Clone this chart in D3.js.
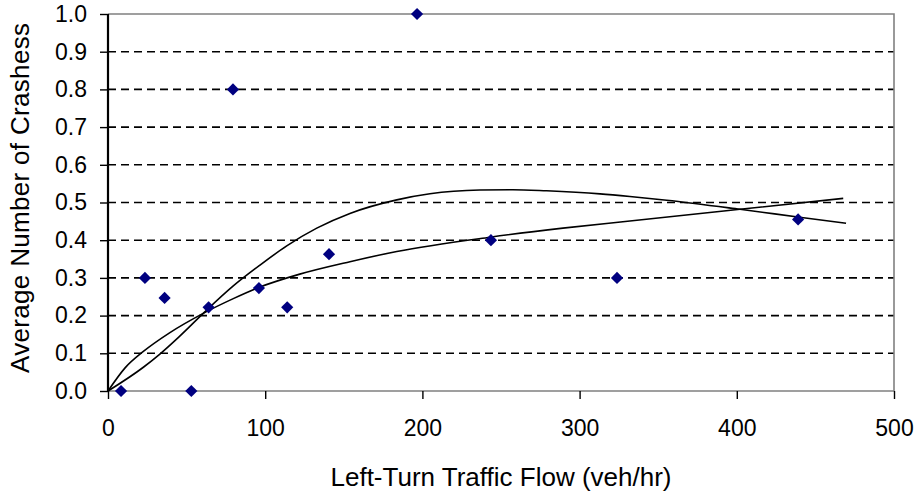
<!DOCTYPE html>
<html>
<head>
<meta charset="utf-8">
<script src="https://cdn.jsdelivr.net/npm/d3@7"></script>
<style>
  body { margin: 0; background: #fff; }
  text { font-family: "Liberation Sans", Arial, sans-serif; fill: #000; }
</style>
</head>
<body>
<script>
var width = 920
var height = 493

// observed points
var flow = [8.3, 23.5, 36, 53, 64, 79.5, 96, 114, 140.6, 196.6, 243.6, 323.8, 439]
var crashes = [0, 0.30, 0.247, 0, 0.222, 0.80, 0.273, 0.222, 0.363, 1.0, 0.40, 0.30, 0.455]

// trend lines
var powerX = [0, 11, 22.5, 39.4, 60.6, 79.7, 96.2, 122, 153.9, 183.7, 243, 289.4, 332, 402, 467.7]
var powerY = [0, 0.062, 0.105, 0.155, 0.206, 0.245, 0.275, 0.310, 0.343, 0.370, 0.408, 0.432, 0.451, 0.482, 0.511]
var polyX = [0, 22.5, 33, 45, 60.6, 79.5, 96.7, 113.7, 132.8, 153.9, 183.7, 204.8, 236.6, 257.6, 279, 313, 332, 355.4, 402, 440, 469.5]
var polyY = [0, 0.063, 0.098, 0.143, 0.206, 0.278, 0.334, 0.385, 0.432, 0.471, 0.507, 0.523, 0.533, 0.534, 0.531, 0.523, 0.516, 0.506, 0.482, 0.461, 0.445]

var xTicks = [0, 100, 200, 300, 400, 500]
var yTicks = [0, 0.1, 0.2, 0.3, 0.4, 0.5, 0.6, 0.7, 0.8, 0.9, 1.0]

var margin = { top: 14, right: 26, bottom: 102, left: 108 }

var x = d3.scaleLinear().domain([0, 500]).range([margin.left, width - margin.right])
var y = d3.scaleLinear().domain([0, 1]).range([height - margin.bottom, margin.top])

const svg = d3.select("body").append("svg")
  .attr("width", width).attr("height", height)

// dashed gridlines
svg.append("g")
  .selectAll("line")
  .data(yTicks.filter(d => d > 0 && d < 1))
  .join("line")
  .attr("x1", x(0)).attr("x2", x(500))
  .attr("y1", d => y(d)).attr("y2", d => y(d))
  .attr("stroke", "#000")
  .attr("stroke-width", 1.6)
  .attr("stroke-dasharray", "8,5")

// plot border (top/right/bottom grey)
svg.append("path")
  .attr("d", `M${x(0)},${y(1)}H${x(500)}V${y(0)}H${x(0)}`)
  .attr("fill", "none")
  .attr("stroke", "#808080")
  .attr("stroke-width", 1.6)

// x axis
const xAxis = svg.append("g")
  .attr("transform", `translate(0,${y(0)})`)
  .call(d3.axisBottom(x).tickValues(xTicks).tickSize(8).tickPadding(21).tickFormat(d3.format("d")))
xAxis.select(".domain").remove()
xAxis.selectAll(".tick line").attr("stroke", "#000").attr("stroke-width", 1.4)
xAxis.selectAll(".tick text").style("font-size", "23px")

// y axis
const yAxis = svg.append("g")
  .attr("transform", `translate(${x(0)},0)`)
  .call(d3.axisLeft(y).tickValues(yTicks).tickSize(8).tickPadding(13).tickFormat(d3.format(".1f")))
yAxis.select(".domain").attr("stroke", "#000").attr("stroke-width", 2.2)
  .attr("d", `M0,${y(1)}V${y(0)}`)
yAxis.selectAll(".tick line").attr("stroke", "#000").attr("stroke-width", 1.4)
yAxis.selectAll(".tick text").style("font-size", "23px")

// trend lines
const line = d3.line().curve(d3.curveMonotoneX)

svg.append("path")
  .attr("d", line(powerX.map((d, i) => [x(d), y(powerY[i])])))
  .attr("fill", "none").attr("stroke", "#000").attr("stroke-width", 1.6)

svg.append("path")
  .attr("d", line(polyX.map((d, i) => [x(d), y(polyY[i])])))
  .attr("fill", "none").attr("stroke", "#000").attr("stroke-width", 1.6)

// diamonds
svg.append("g")
  .selectAll("path")
  .data(flow.map((d, i) => [d, crashes[i]]))
  .join("path")
  .attr("d", d3.symbol(d3.symbolDiamond2, 95))
  .attr("transform", d => `translate(${x(d[0])},${y(d[1])})`)
  .attr("fill", "#000080")

// axis titles
svg.append("text")
  .attr("x", (x(0) + x(500)) / 2)
  .attr("y", 486)
  .attr("text-anchor", "middle")
  .style("font-size", "26px")
  .text("Left-Turn Traffic Flow (veh/hr)")

svg.append("text")
  .attr("transform", `translate(29,198) rotate(-90)`)
  .attr("text-anchor", "middle")
  .attr("textLength", 350)
  .style("font-size", "26px")
  .text("Average Number of Crashess")
</script>
</body>
</html>
